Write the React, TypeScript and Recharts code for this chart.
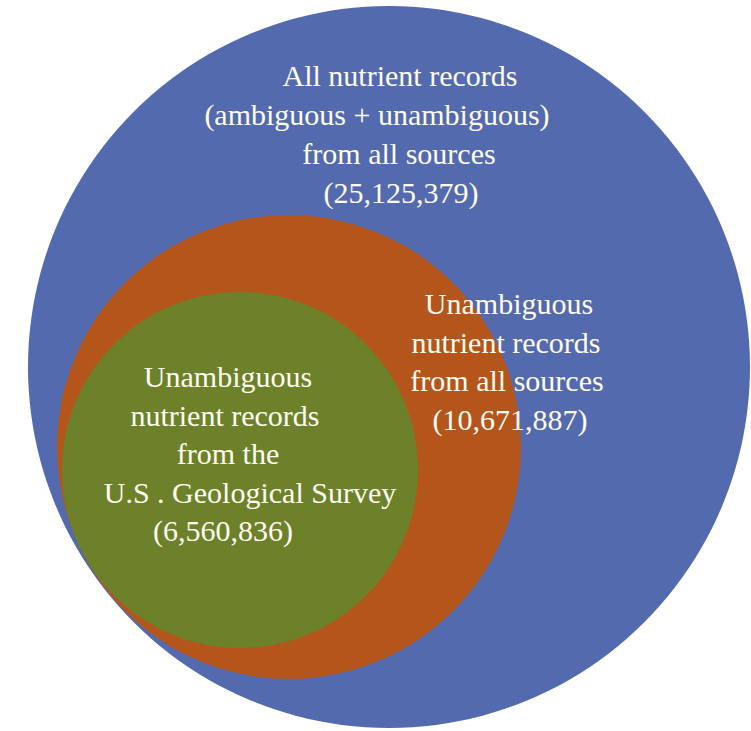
import React from 'react';
import { PieChart, Pie, Cell } from 'recharts';

// ---- data ----
const categories = ['All nutrient records', 'Unambiguous, all sources', 'Unambiguous, U.S. Geological Survey'];
const recordCounts = [25125379, 10671887, 6560836];
const labelLines = [
  ['All nutrient records', '(ambiguous + unambiguous)', 'from all sources'],
  ['Unambiguous', 'nutrient records', 'from all sources'],
  ['Unambiguous', 'nutrient records', 'from the', 'U.S . Geological Survey'],
];

// ---- styles / layout ----
const COLORS = ['#546AAE', '#B4561B', '#6D812A'];
const CIRCLES = [
  { cx: 389, cy: 367, r: 361 },
  { cx: 289, cy: 447, r: 232 },
  { cx: 240, cy: 470, r: 178 },
];
const TEXT_X = [
  [400, 377, 399, 401],
  [509, 506, 507, 510],
  [228, 225, 228, 250, 223],
];
const TEXT_Y0 = [86, 314, 387];
const LINE_H = [39, 38.7, 38.5];
const FONT = "'Liberation Serif', 'DejaVu Serif', serif";

const fmt = (v: number) => `(${v.toLocaleString('en-US')})`;

const makeLabel = (i: number) => () => {
  const lines = [...labelLines[i], fmt(recordCounts[i])];
  return (
    <g>
      {lines.map((t, j) => (
        <text
          key={j}
          x={TEXT_X[i][j]}
          y={TEXT_Y0[i] + j * LINE_H[i]}
          textAnchor="middle"
          fill="#FFFDF2"
          style={{ fontFamily: FONT, fontSize: 30 }}
        >
          {t}
        </text>
      ))}
    </g>
  );
};

export default function App() {
  return (
    <div style={{ position: 'absolute', left: 0, top: 0, width: 751, height: 731, background: '#fff', fontFamily: FONT }}>
      <PieChart width={751} height={731} margin={{ top: 0, right: 0, bottom: 0, left: 0 }}>
        {categories.map((name, i) => (
          <Pie
            key={name}
            data={[{ name, value: recordCounts[i] }]}
            dataKey="value"
            nameKey="name"
            cx={CIRCLES[i].cx}
            cy={CIRCLES[i].cy}
            innerRadius={0}
            outerRadius={CIRCLES[i].r}
            startAngle={90}
            endAngle={-270}
            stroke="none"
            isAnimationActive={false}
            labelLine={false}
            label={makeLabel(i)}
          >
            <Cell fill={COLORS[i]} />
          </Pie>
        ))}
      </PieChart>
    </div>
  );
}
